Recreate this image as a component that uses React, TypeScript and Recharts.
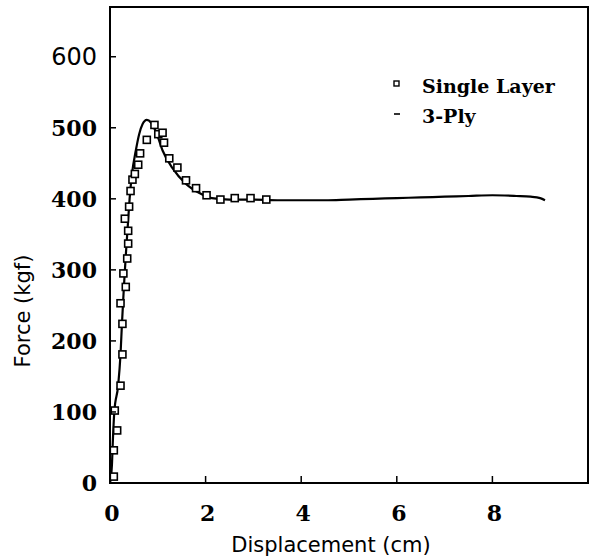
import React from "react";
import { ComposedChart, Line, Scatter, XAxis, YAxis, ReferenceArea } from "recharts";

// Single Layer (square markers)
const singleX = [0.08, 0.08, 0.15, 0.1, 0.22, 0.26, 0.26, 0.22, 0.33, 0.28, 0.36, 0.38, 0.38, 0.31, 0.4, 0.43, 0.47, 0.52, 0.59, 0.63, 0.77, 0.93, 1.01, 1.1, 1.13, 1.24, 1.41, 1.59, 1.8, 2.02, 2.31, 2.61, 2.94, 3.27];
const singleY = [9, 46, 74, 102, 137, 181, 224, 253, 276, 295, 316, 337, 355, 372, 389, 411, 427, 435, 448, 464, 483, 504, 491, 493, 479, 457, 444, 426, 415, 405, 399, 401, 401, 399];

// 3-Ply (solid line)
const plyX = [0, 0.04, 0.06, 0.09, 0.17, 0.22, 0.25, 0.29, 0.33, 0.37, 0.41, 0.46, 0.54, 0.61, 0.68, 0.77, 0.86, 0.98, 1.1, 1.3, 1.59, 1.9, 2.13, 2.5, 3, 3.5, 4, 4.5, 5, 5.5, 6, 6.5, 7, 7.5, 8, 8.5, 8.8, 9.0, 9.1];
const plyY = [0, 25, 60, 100, 137, 181, 224, 275, 320, 360, 400, 435, 468, 491, 505, 511, 507, 491, 468, 444, 421, 407, 401, 399, 399, 398, 398, 398, 399, 400, 401, 402, 403, 404, 405, 404, 403, 401, 398];

const xTicks = [0, 2, 4, 6, 8];
const yTicks = [0, 100, 200, 300, 400, 500, 600];
const xTitle = "Displacement (cm)";
const yTitle = "Force (kgf)";
const legendNames = ["Single Layer", "3-Ply"];

const singleData = singleX.map((x, i) => ({ x, y: singleY[i] }));
const plyData = plyX.map((x, i) => ({ x, y: plyY[i] }));

const SERIF = "'DejaVu Serif', serif";
const SANS = "'DejaVu Sans', sans-serif";

const XTick = (props: any) => {
  const { x, y, payload } = props;
  return (
    <g>
      {payload.value !== 0 && <line x1={x} x2={x} y1={y} y2={y - 7} stroke="#000" strokeWidth={1.5} />}
      <text x={x + 2} y={y + 38} textAnchor="middle" fontFamily={SERIF} fontWeight="bold" fontSize={22} fill="#000">
        {payload.value}
      </text>
    </g>
  );
};

const YTick = (props: any) => {
  const { x, y, payload } = props;
  const sans = payload.value === 600;
  return (
    <g>
      <line x1={x + 13} x2={x + 19} y1={y} y2={y} stroke="#000" strokeWidth={1.5} />
      <text
        x={x}
        y={y + 8}
        textAnchor="end"
        fontFamily={sans ? SANS : SERIF}
        fontWeight={sans ? "normal" : "bold"}
        fontSize={sans ? 24 : 22}
        fill="#000"
      >
        {payload.value}
      </text>
    </g>
  );
};

const SquareShape = (props: any) => {
  const { cx, cy } = props;
  return <rect x={cx - 3.5} y={cy - 3.5} width={7} height={7} fill="#fff" stroke="#000" strokeWidth={1.6} />;
};

export default function App() {
  return (
    <div style={{ position: "absolute", left: 0, top: 0, width: 593, height: 557, background: "#fff" }}>
      <ComposedChart width={593} height={557} margin={{ top: 7, right: 5, left: 0, bottom: 0 }}>
        <XAxis
          dataKey="x"
          type="number"
          domain={[0, 10]}
          ticks={xTicks}
          allowDataOverflow
          height={74}
          tickSize={0}
          tickMargin={0}
          tickLine={false}
          axisLine={{ stroke: "#000", strokeWidth: 2 }}
          tick={<XTick />}
          label={{
            content: (p: any) => {
              const vb = p.viewBox;
              return (
                <text x={vb.x + vb.width / 2 - 18} y={vb.y + 69} textAnchor="middle" fontFamily={SANS} fontSize={21} fill="#000">
                  {xTitle}
                </text>
              );
            },
          }}
        />
        <YAxis
          dataKey="y"
          type="number"
          domain={[0, 670]}
          ticks={yTicks}
          allowDataOverflow
          width={110}
          tickSize={0}
          tickMargin={13}
          tickLine={false}
          axisLine={{ stroke: "#000", strokeWidth: 2 }}
          tick={<YTick />}
          label={{
            content: () => (
              <text x={30} y={311} transform="rotate(-90, 30, 311)" textAnchor="middle" fontFamily={SANS} fontSize={21} fill="#000">
                {yTitle}
              </text>
            ),
          }}
        />
        <ReferenceArea x1={0} x2={10} y1={0} y2={670} fill="none" stroke="#000" strokeWidth={2} ifOverflow="visible" />
        <Scatter data={singleData} dataKey="y" shape={<SquareShape />} isAnimationActive={false} />
        <Line data={plyData} dataKey="y" type="monotone" stroke="#000" strokeWidth={2.2} dot={false} isAnimationActive={false} />
      </ComposedChart>
      <svg width={593} height={557} style={{ position: "absolute", left: 0, top: 0, pointerEvents: "none" }}>
        <rect x={394} y={81} width={5} height={5} fill="#fff" stroke="#000" strokeWidth={1.4} />
        <text x={422} y={93} fontFamily={SERIF} fontWeight="bold" fontSize={19} fill="#000">{legendNames[0]}</text>
        <line x1={394} x2={400} y1={114} y2={114} stroke="#000" strokeWidth={1.6} />
        <text x={422} y={123} fontFamily={SERIF} fontWeight="bold" fontSize={19} fill="#000">{legendNames[1]}</text>
      </svg>
    </div>
  );
}
